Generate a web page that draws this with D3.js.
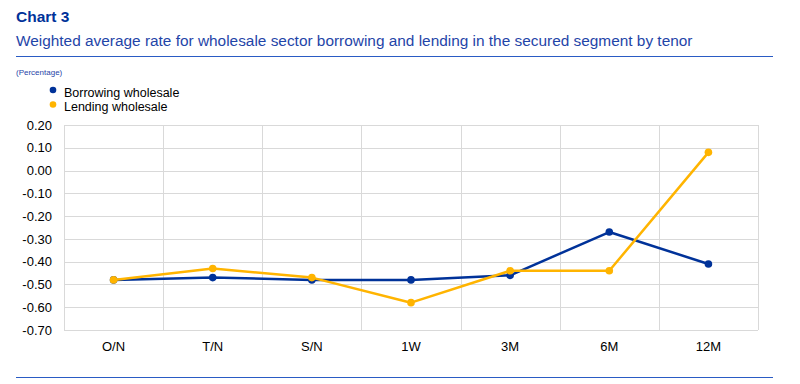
<!DOCTYPE html>
<html>
<head>
<meta charset="utf-8">
<script src="https://cdn.jsdelivr.net/npm/d3@7"></script>
<style>
  body { margin: 0; background: #fff; }
  svg { display: block; font-family: "Liberation Sans", Arial, sans-serif; }
</style>
</head>
<body>
<svg id="chart" width="800" height="384"></svg>
<script>
const categories = ['O/N', 'T/N', 'S/N', '1W', '3M', '6M', '12M'];
const borrowing = [-0.48, -0.47, -0.48, -0.48, -0.46, -0.27, -0.41];
const lending = [-0.48, -0.43, -0.47, -0.58, -0.44, -0.44, 0.08];
const yTicks = [0.2, 0.1, 0, -0.1, -0.2, -0.3, -0.4, -0.5, -0.6, -0.7];

const seriesList = [
  { name: 'Borrowing wholesale', values: borrowing, color: '#003299' },
  { name: 'Lending wholesale', values: lending, color: '#ffb400' }
];

const svg = d3.select('#chart');
const margin = { top: 125, right: 42, bottom: 54, left: 64 };
const width = 800 - margin.left - margin.right;
const height = 384 - margin.top - margin.bottom;

// header
svg.append('text')
  .attr('x', 16).attr('y', 22)
  .attr('fill', '#003299')
  .style('font-size', '15.5px').style('font-weight', 'bold')
  .text('Chart 3');
svg.append('text')
  .attr('x', 16).attr('y', 45.5)
  .attr('fill', '#1f45a8')
  .style('font-size', '15.4px')
  .text('Weighted average rate for wholesale sector borrowing and lending in the secured segment by tenor');
svg.append('line')
  .attr('x1', 16).attr('x2', 773).attr('y1', 56.5).attr('y2', 56.5)
  .attr('stroke', '#2a5bc4').attr('stroke-width', 1.2);
svg.append('line')
  .attr('x1', 16).attr('x2', 773).attr('y1', 377.5).attr('y2', 377.5)
  .attr('stroke', '#2a5bc4').attr('stroke-width', 1.2);
svg.append('text')
  .attr('x', 16).attr('y', 75)
  .attr('fill', '#1f45a8')
  .style('font-size', '8px')
  .text('(Percentage)');

// legend
const legend = svg.append('g').attr('transform', 'translate(53,90)');
seriesList.forEach((s, i) => {
  const g = legend.append('g').attr('transform', `translate(0,${i * 14.5})`);
  g.append('circle').attr('r', 3.3).attr('fill', s.color);
  g.append('text')
    .attr('x', 11).attr('y', 6.5)
    .attr('fill', '#000')
    .style('font-size', '12.5px')
    .text(s.name);
});

const g = svg.append('g').attr('transform', `translate(${margin.left},${margin.top})`);

const x = d3.scaleBand().domain(categories).range([0, width]);
const y = d3.scaleLinear().domain([-0.7, 0.2]).range([height, 0]);

// gridlines
g.selectAll('line.hgrid')
  .data(yTicks)
  .enter().append('line')
  .attr('class', 'hgrid')
  .attr('x1', 0).attr('x2', width)
  .attr('y1', d => Math.round(y(d)) + 0.5).attr('y2', d => Math.round(y(d)) + 0.5)
  .attr('stroke', '#d9d9d9').attr('stroke-width', 1);
g.selectAll('line.vgrid')
  .data(categories.concat(['end']))
  .enter().append('line')
  .attr('class', 'vgrid')
  .attr('x1', (d, i) => Math.round(i * x.bandwidth()) + 0.5)
  .attr('x2', (d, i) => Math.round(i * x.bandwidth()) + 0.5)
  .attr('y1', 0).attr('y2', height)
  .attr('stroke', '#d9d9d9').attr('stroke-width', 1);

// axes
const yAxis = g.append('g')
  .call(d3.axisLeft(y).tickValues(yTicks).tickFormat(d3.format('.2f')).tickSize(0).tickPadding(12));
yAxis.select('.domain').remove();
yAxis.selectAll('text').style('font-size', '13px').attr('fill', '#000')
  .text(d => d3.format('.2f')(d).replace('−', '-'));

const xAxis = g.append('g')
  .attr('transform', `translate(0,${height})`)
  .call(d3.axisBottom(x).tickSize(0).tickPadding(12));
xAxis.select('.domain').remove();
xAxis.selectAll('text').style('font-size', '13px').attr('fill', '#000');

// series
const line = d3.line()
  .x((d, i) => x(categories[i]) + x.bandwidth() / 2)
  .y(d => y(d));

seriesList.forEach(s => {
  g.append('path')
    .datum(s.values)
    .attr('fill', 'none')
    .attr('stroke', s.color)
    .attr('stroke-width', 2.5)
    .attr('stroke-linejoin', 'round')
    .attr('d', line);
  g.selectAll(null)
    .data(s.values)
    .enter().append('circle')
    .attr('cx', (d, i) => x(categories[i]) + x.bandwidth() / 2)
    .attr('cy', d => y(d))
    .attr('r', 3.8)
    .attr('fill', s.color);
});
</script>
</body>
</html>
